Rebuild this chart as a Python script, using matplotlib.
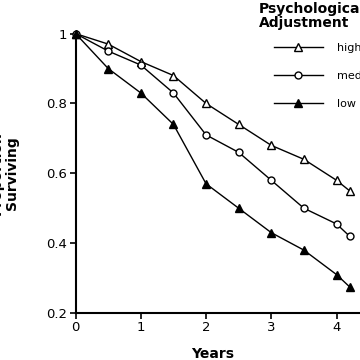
import matplotlib.pyplot as plt

plt.rcParams['font.family'] = ['DejaVu Sans']

years = [0, 0.5, 1, 1.5, 2, 2.5, 3, 3.5, 4, 4.2]
high = [1.0, 0.97, 0.92, 0.88, 0.80, 0.74, 0.68, 0.64, 0.58, 0.55]
medium = [1.0, 0.95, 0.91, 0.83, 0.71, 0.66, 0.58, 0.50, 0.455, 0.42]
low = [1.0, 0.90, 0.83, 0.74, 0.57, 0.50, 0.43, 0.38, 0.31, 0.275]

fig = plt.figure(figsize=(3.6, 3.6), dpi=100)
ax = fig.add_axes([0.21, 0.1306, 0.79, 0.776])

ax.plot(years, high, color='black', lw=1, marker='^', ms=5.5,
        mfc='white', mec='black', mew=1, label='high', clip_on=False)
ax.plot(years, medium, color='black', lw=1, marker='o', ms=5,
        mfc='white', mec='black', mew=1, label='medium', clip_on=False)
ax.plot(years, low, color='black', lw=1, marker='^', ms=5.5,
        mfc='black', mec='black', label='low', clip_on=False)

ax.set_xlim(0, 4.36)
ax.set_ylim(0.2, 1.0)
ax.set_xticks([0, 1, 2, 3, 4])
ax.set_yticks([0.2, 0.4, 0.6, 0.8, 1.0])
ax.set_yticklabels(['0.2', '0.4', '0.6', '0.8', '1'])
ax.tick_params(direction='out', length=4, width=1.2, labelsize=9.5, pad=2)

for s in ['top', 'right']:
    ax.spines[s].set_visible(False)
for s in ['left', 'bottom']:
    ax.spines[s].set_linewidth(1.5)

ax.set_xlabel('Years', fontsize=10, fontweight='bold')
ax.xaxis.set_label_coords(0.48, -0.12)
ax.set_ylabel('Proportion\nSurviving', fontsize=10, fontweight='bold',
              linespacing=1.1)
ax.yaxis.set_label_coords(-0.2, 0.5)

# legend title drawn separately so the handles sit indented under it
fig.text(259 / 360, 1 - 2 / 360, 'Psychological\nAdjustment', fontsize=10,
         fontweight='bold', ha='left', va='top', linespacing=1.0)
ax.legend(loc='upper left', bbox_to_anchor=(274 / 360, 1 - 43 / 360),
          bbox_transform=fig.transFigure, frameon=False, fontsize=8,
          handlelength=4.4, handletextpad=1.25, labelspacing=1.63,
          borderpad=0.0, borderaxespad=0.0)

fig.savefig('out.png', dpi=100)
